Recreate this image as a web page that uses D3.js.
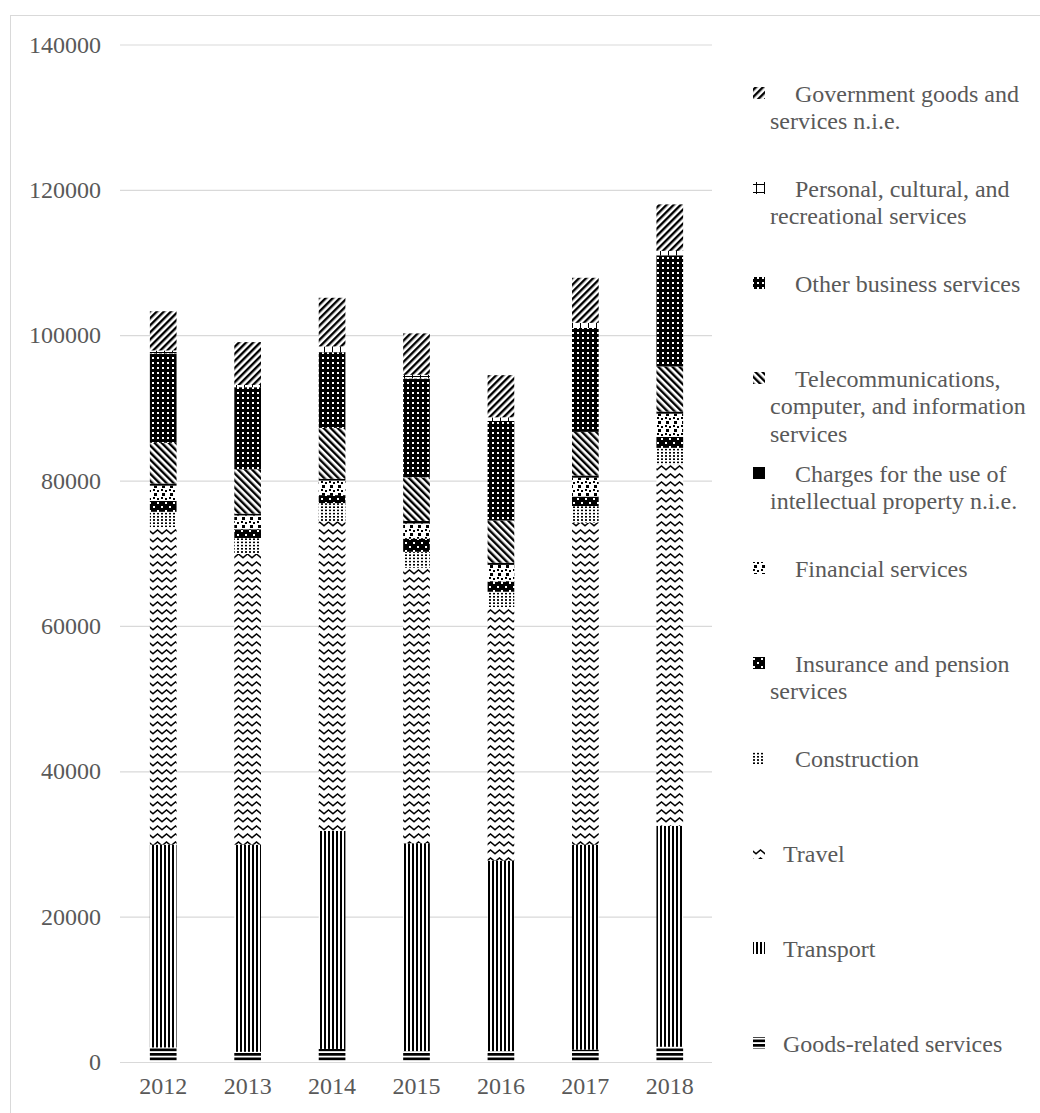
<!DOCTYPE html>
<html>
<head>
<meta charset="utf-8">
<script src="https://cdn.jsdelivr.net/npm/d3@7"></script>
<style>
  body { margin: 0; background: #fff; }
  text { font-family: "Times New Roman", "Liberation Serif", serif; }
</style>
</head>
<body>
<div id="chart"></div>
<script>
"use strict";

// Categories and series (bottom of the stack first)
const years = ["2012", "2013", "2014", "2015", "2016", "2017", "2018"];
const goodsRelated = [2000, 1400, 1800, 1500, 1500, 1700, 2100];
const transport = [27900, 28500, 30000, 28600, 26200, 28200, 30400];
const travel = [43700, 40000, 42600, 37900, 34900, 44300, 49700];
const construction = [2100, 2200, 2500, 2200, 2100, 2300, 2300];
const insurance = [1500, 1200, 1100, 1800, 1400, 1300, 1500];
const financial = [2100, 1900, 2000, 2100, 2300, 2600, 3200];
const charges = [300, 250, 250, 350, 300, 300, 300];
const telecom = [5600, 6100, 7000, 6000, 5800, 6000, 6200];
const otherBusiness = [12300, 11300, 10400, 13600, 13700, 14300, 15300];
const personal = [400, 300, 800, 500, 500, 700, 600];
const government = [5400, 5900, 6700, 5700, 5800, 6200, 6400];

const seriesNames = [
  "Goods-related services",
  "Transport",
  "Travel",
  "Construction",
  "Insurance and pension services",
  "Financial services",
  "Charges for the use of intellectual property n.i.e.",
  "Telecommunications, computer, and information services",
  "Other business services",
  "Personal, cultural, and recreational services",
  "Government goods and services n.i.e."
];
const seriesValues = [goodsRelated, transport, travel, construction, insurance,
  financial, charges, telecom, otherBusiness, personal, government];
const yTicks = [0, 20000, 40000, 60000, 80000, 100000, 120000, 140000];

// fill pattern for each series, same order
const patternIds = ["p-goods", "p-transport", "p-travel", "p-construction",
  "p-insurance", "p-financial", "p-charges", "p-telecom", "p-other",
  "p-personal", "p-gov"];

const width = 1040;
const height = 1113;
const textColor = "#595959";
const gridColor = "#d9d9d9";

// build the table d3.stack wants
const rows = years.map(function (year, i) {
  const row = { year: year };
  seriesNames.forEach(function (name, k) {
    row[name] = seriesValues[k][i];
  });
  return row;
});
const stacked = d3.stack().keys(seriesNames)(rows);

const svg = d3.select("#chart").append("svg")
  .attr("width", width)
  .attr("height", height);

// patterns
const defs = svg.append("defs");
function addPattern(id, w, h, draw, transform) {
  const p = defs.append("pattern")
    .attr("id", id)
    .attr("patternUnits", "userSpaceOnUse")
    .attr("width", w)
    .attr("height", h);
  if (transform) p.attr("patternTransform", transform);
  draw(p);
}
function box(p, x, y, w, h, fill) {
  p.append("rect").attr("x", x).attr("y", y).attr("width", w).attr("height", h)
    .attr("fill", fill).attr("shape-rendering", "crispEdges");
}

addPattern("p-goods", 4, 4.5, function (p) {
  box(p, 0, 0, 4, 4.5, "#fff");
  box(p, 0, 0, 4, 2.4, "#000");
});
addPattern("p-transport", 4, 4, function (p) {
  box(p, 0, 0, 4, 4, "#fff");
  box(p, 0, 0, 2, 4, "#000");
});
addPattern("p-travel", 9, 8, function (p) {
  box(p, 0, 0, 9, 8, "#fff");
  p.append("path")
    .attr("d", "M-1,6.6 L4.5,2 L10,6.6")
    .attr("fill", "none")
    .attr("stroke", "#000")
    .attr("stroke-width", 1.5);
});
addPattern("p-construction", 4, 3.2, function (p) {
  box(p, 0, 0, 4, 3.2, "#fff");
  box(p, 1, 1, 1.6, 1.4, "#000");
});
addPattern("p-insurance", 8, 8, function (p) {
  box(p, 0, 0, 8, 8, "#000");
  box(p, 1, 2, 2, 2, "#fff");
  box(p, 5, 6, 2, 1.6, "#fff");
});
addPattern("p-financial", 8, 8, function (p) {
  box(p, 0, 0, 8, 8, "#fff");
  box(p, 0.5, 0.5, 2.6, 2.6, "#000");
  box(p, 4.8, 1.8, 2.6, 2.6, "#000");
  box(p, 2.2, 5, 2.6, 2.6, "#000");
});
addPattern("p-charges", 4, 4, function (p) {
  box(p, 0, 0, 4, 4, "#000");
});
addPattern("p-telecom", 5, 5, function (p) {
  box(p, 0, 0, 5, 5, "#fff");
  p.append("rect").attr("width", 2.4).attr("height", 5).attr("fill", "#000");
}, "rotate(-45)");
addPattern("p-other", 5, 5, function (p) {
  box(p, 0, 0, 5, 5, "#000");
  box(p, 1.5, 1.5, 2.2, 2.2, "#fff");
});
addPattern("p-personal", 8, 8, function (p) {
  box(p, 0, 0, 8, 8, "#fff");
  box(p, 0, 0, 8, 1.2, "#000");
  box(p, 3.5, 0, 1.5, 8, "#000");
});
addPattern("p-gov", 5, 5, function (p) {
  box(p, 0, 0, 5, 5, "#fff");
  p.append("rect").attr("width", 2.4).attr("height", 5).attr("fill", "#000");
}, "rotate(45)");

// outer chart border
svg.append("rect")
  .attr("x", 10.5).attr("y", 15.5)
  .attr("width", width).attr("height", height)
  .attr("fill", "none")
  .attr("stroke", gridColor);

// scales
const x = d3.scaleBand()
  .domain(years)
  .range([121, 712])
  .paddingInner(0.684)
  .paddingOuter(0.342);
const y = d3.scaleLinear()
  .domain([0, 140000])
  .range([1062, 44.5]);

// y axis with gridlines
const yAxis = svg.append("g")
  .attr("transform", "translate(120,0)")
  .call(d3.axisLeft(y)
    .tickValues(yTicks)
    .tickSize(-592)
    .tickPadding(19)
    .tickFormat(d3.format("d")));
yAxis.select(".domain").remove();
yAxis.selectAll(".tick line").attr("stroke", gridColor).attr("stroke-width", 1.2);
yAxis.selectAll(".tick text")
  .attr("fill", textColor)
  .style("font-size", "24px")
  .style("font-family", "'Times New Roman', 'Liberation Serif', serif");

// x axis labels
const xAxis = svg.append("g")
  .attr("transform", "translate(0,1062)")
  .call(d3.axisBottom(x).tickSize(0).tickPadding(15));
xAxis.select(".domain").remove();
xAxis.selectAll(".tick text")
  .attr("fill", textColor)
  .style("font-size", "24px")
  .style("font-family", "'Times New Roman', 'Liberation Serif', serif");

// stacked bars
svg.append("g")
  .selectAll("g")
  .data(stacked)
  .enter()
  .append("g")
  .attr("fill", function (d, k) { return "url(#" + patternIds[k] + ")"; })
  .selectAll("rect")
  .data(function (d) { return d; })
  .enter()
  .append("rect")
  .attr("x", function (d) { return x(d.data.year); })
  .attr("y", function (d) { return y(d[1]); })
  .attr("width", x.bandwidth())
  .attr("height", function (d) { return y(d[0]) - y(d[1]); });

// legend: goods at the bottom, one even slot per series going up
const legendSlot = 95;
const legendBottom = 1043;
const lineHeight = 27.5;

function wrapLines(probe, name, firstWidth, restWidth) {
  const words = name.split(" ");
  const lines = [];
  let line = [];
  let maxW = firstWidth;
  words.forEach(function (w) {
    probe.text(line.concat(w).join(" "));
    if (line.length && probe.node().getComputedTextLength() > maxW) {
      lines.push(line.join(" "));
      line = [w];
      maxW = restWidth;
    } else {
      line.push(w);
    }
  });
  lines.push(line.join(" "));
  return lines;
}

const legend = svg.append("g");
seriesNames.forEach(function (name, k) {
  const cy = legendBottom - k * legendSlot;
  const textX = k < 3 ? 783 : 795;
  legend.append("rect")
    .attr("x", 753).attr("y", cy - 6)
    .attr("width", 12).attr("height", 12)
    .attr("fill", "url(#" + patternIds[k] + ")");
  const t = legend.append("text")
    .attr("fill", textColor)
    .style("font-size", "24px");
  const lines = wrapLines(t, name, 1034 - textX, 1034 - 770);
  t.text(null);
  lines.forEach(function (ln, j) {
    t.append("tspan")
      .attr("x", j === 0 ? textX : 770)
      .attr("y", cy + 8.5 + j * lineHeight)
      .text(ln);
  });
});
</script>
</body>
</html>
